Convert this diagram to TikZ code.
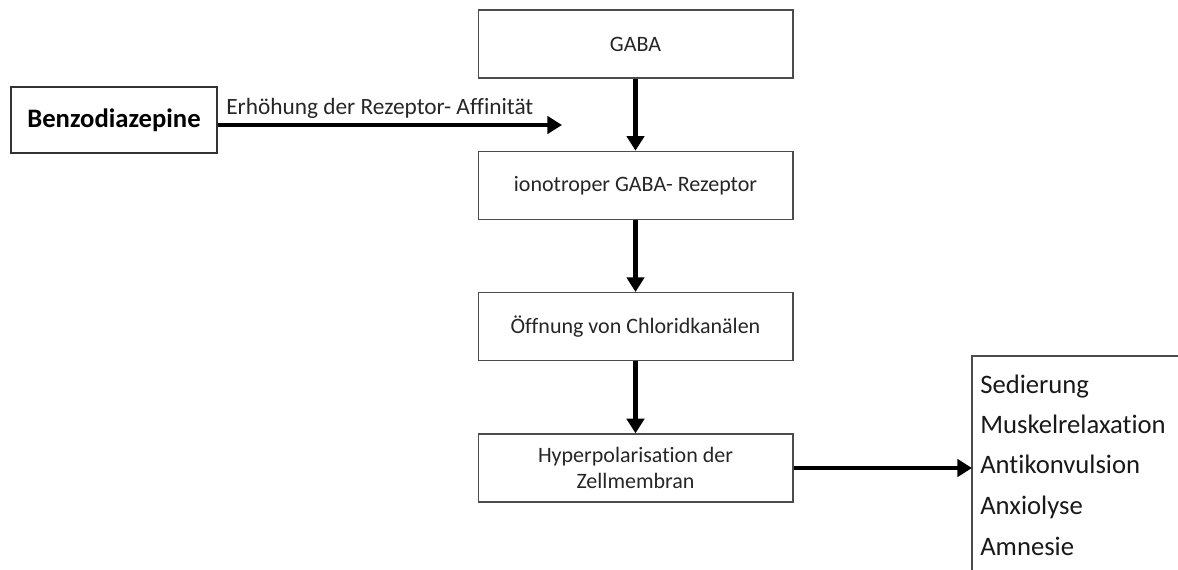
\documentclass[tikz,border=0pt]{standalone}
\usepackage{fontspec}
\setmainfont{Carlito}[Ligatures=NoCommon]
\usetikzlibrary{arrows.meta,positioning}

\tikzset{
    stage/.style={draw=black!70, line width=1pt, minimum width=236pt, minimum height=51pt,
        align=center, inner sep=2pt, text=black!85, font=\fontsize{16.5}{19}\selectfont},
    flow/.style={line width=3.6pt, -{Triangle[width=13pt,length=11pt]}},
    effect/.style={anchor=base west, inner sep=0pt, text=black!90, font=\fontsize{20}{24}\selectfont}
}

\begin{document}
\begin{tikzpicture}[x=0.75pt,y=-0.75pt]
    \useasboundingbox (0,0) rectangle (1178,569);
    % main chain
    \node[stage] (gaba) at (635.5,44) {GABA};
    \node[stage, below=54pt of gaba] (rezeptor) {ionotroper GABA- Rezeptor};
    \node[stage, below=54pt of rezeptor] (kanal) {Öffnung von Chloridkanälen};
    \node[stage, below=54pt of kanal] (hyper) {Hyperpolarisation der\\Zellmembran};
    \draw[flow] (gaba) -- (rezeptor);
    \draw[flow] (rezeptor) -- (kanal);
    \draw[flow] (kanal) -- (hyper);
    % benzodiazepine input
    \node[draw=black!80, line width=1pt, minimum width=154.5pt, minimum height=49.5pt,
        font=\fontsize{20}{24}\selectfont\bfseries] (benzo) at (114,120) {Benzodiazepine};
    \coordinate (affin) at (562,125);
    \draw[flow] (benzo.east |- affin) -- (affin);
    \node[anchor=base west, inner sep=0pt, text=black!85, font=\fontsize{17.5}{21}\selectfont]
        (affinlabel) at (226,114) {Erhöhung der Rezeptor- Affinität};
    % effects box (cut off at the page edge)
    \coordinate (listcorner) at (972,356);
    \draw[black!70, line width=1pt] (1180,356) -- (listcorner) -- (972,571);
    \foreach \name/\y [count=\i] in {Sedierung/393, Muskelrelaxation/433, Antikonvulsion/473, Anxiolyse/514, Amnesie/555}
        \node[effect] (effect\i) at (980,\y) {\name};
    \draw[flow] (hyper.east) -- (hyper.east -| listcorner);
\end{tikzpicture}
\end{document}
